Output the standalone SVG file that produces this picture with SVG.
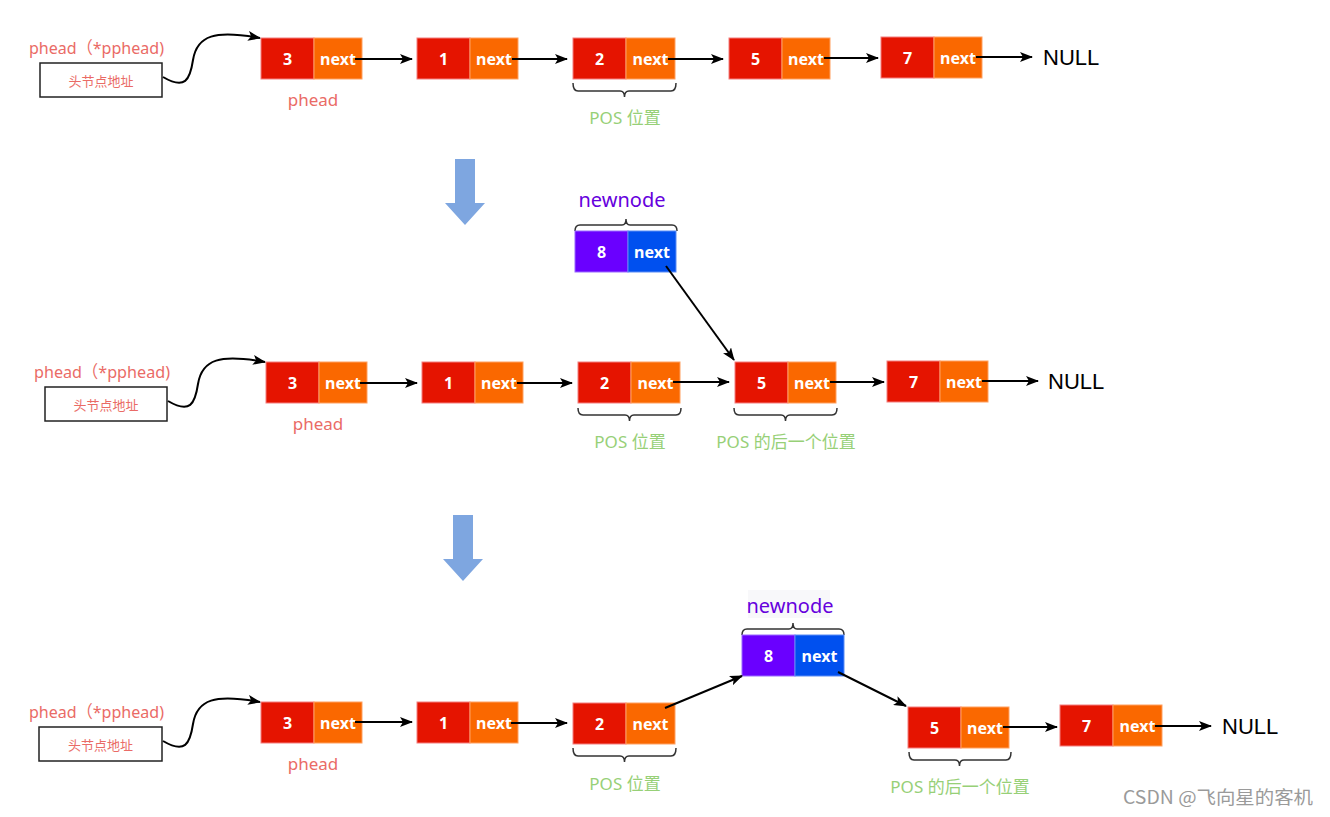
<svg xmlns="http://www.w3.org/2000/svg" width="1330" height="817" viewBox="0 0 1330 817">
<style>
.r{fill:#E51400;stroke:#F47E7E;stroke-width:1}
.o{fill:#FA6800;stroke:#FFA060;stroke-width:1}
.p{fill:#6A00FF;stroke:#9A6BFF;stroke-width:1}
.b{fill:#0050EF;stroke:#5A8CF5;stroke-width:1}
.nt{font-family:"Noto Sans","DejaVu Sans",sans-serif;font-weight:bold;font-size:16px;fill:#FFFFFF;text-anchor:middle;dominant-baseline:central}
.lbl{font-family:"Noto Sans","Noto Sans CJK SC",sans-serif;font-size:17px;fill:#EA6B66}
.box{fill:#FFFFFF;stroke:#222222;stroke-width:1.5}
.cn{font-family:"Noto Sans CJK SC",sans-serif;font-size:13px;fill:#EA6B66;text-anchor:middle;dominant-baseline:central}
.pos{font-family:"Noto Sans","Noto Sans CJK SC",sans-serif;font-size:17px;fill:#97D077;text-anchor:middle;dominant-baseline:central}
.nn{font-family:"Noto Sans","DejaVu Sans",sans-serif;font-size:20px;fill:#6600DD;text-anchor:middle;dominant-baseline:central}
.null{font-family:"Liberation Sans",Arial,sans-serif;font-size:22px;fill:#000000;dominant-baseline:central}
.br{fill:none;stroke:#333333;stroke-width:1.5}
.ln{fill:none;stroke:#000000;stroke-width:2;marker-end:url(#ah)}
.da{fill:#7EA6E0}
.wm{font-family:"Noto Sans CJK SC",sans-serif;font-size:18px;fill:#9A9A9A}
</style>
<defs>
<marker id="ah" viewBox="0 0 13 10" refX="12" refY="5" markerWidth="13" markerHeight="10" markerUnits="userSpaceOnUse" orient="auto">
<path d="M0,0 L13,5 L0,10 L3,5 z" fill="#000000"/>
</marker>
</defs>
<rect width="1330" height="817" fill="#FFFFFF"/>

<!-- ===== Row 1 ===== -->
<g id="r1-head">
<text class="lbl" x="29" y="54" textLength="135" lengthAdjust="spacingAndGlyphs">phead（*pphead)</text>
<rect class="box" x="40" y="63" width="122" height="34"/>
<text class="cn" x="101" y="80">头节点地址</text>
</g>
<g id="r1-n3">
<rect class="r" x="261" y="38" width="53" height="41"/><rect class="o" x="314" y="38" width="48" height="41"/>
<text class="nt" x="287.5" y="58.5">3</text><text class="nt" x="338" y="58.5">next</text>
<text class="lbl" x="313" y="99" text-anchor="middle" dominant-baseline="central">phead</text>
</g>
<g id="r1-n1">
<rect class="r" x="417" y="38" width="53" height="41"/><rect class="o" x="470" y="38" width="48" height="41"/>
<text class="nt" x="443.5" y="58.5">1</text><text class="nt" x="494" y="58.5">next</text>
</g>
<g id="r1-n2">
<rect class="r" x="573" y="38" width="53" height="41"/><rect class="o" x="626" y="38" width="49" height="41"/>
<text class="nt" x="599.5" y="58.5">2</text><text class="nt" x="650.5" y="58.5">next</text>
<path class="br" d="M573,83 Q573,91 578,91 L620,91 Q624.5,91 624.5,97 Q624.5,91 629,91 L671,91 Q676,91 676,83"/>
<text class="pos" x="625" y="117">POS 位置</text>
</g>
<g id="r1-n5">
<rect class="r" x="729" y="38" width="53" height="41"/><rect class="o" x="782" y="38" width="48" height="41"/>
<text class="nt" x="755.5" y="58.5">5</text><text class="nt" x="806" y="58.5">next</text>
</g>
<g id="r1-n7">
<rect class="r" x="881" y="37" width="53" height="41"/><rect class="o" x="934" y="37" width="48" height="41"/>
<text class="nt" x="907.5" y="57.5">7</text><text class="nt" x="958" y="57.5">next</text>
</g>
<g id="r1-null"><text class="null" x="1043" y="57">NULL</text></g>

<!-- down arrows -->
<g id="down1"><polygon class="da" points="455,159 475,159 475,203 485,203 465,225 445,203 455,203"/></g>
<g id="down2"><polygon class="da" points="453,515 473,515 473,559 483,559 463,581 443,559 453,559"/></g>

<!-- ===== Row 2 ===== -->
<g id="r2-newnode">
<text class="nn" x="622" y="199">newnode</text>
<path class="br" d="M575,231 Q575,225 580,225 L622,225 Q626,225 626,219 Q626,225 630,225 L672,225 Q677,225 677,231"/>
<rect class="p" x="575" y="231" width="53" height="41"/><rect class="b" x="628" y="231" width="48" height="41"/>
<text class="nt" x="601.5" y="251.5">8</text><text class="nt" x="652" y="251.5">next</text>
</g>
<g id="r2-head">
<text class="lbl" x="34" y="378" textLength="136" lengthAdjust="spacingAndGlyphs">phead（*pphead)</text>
<rect class="box" x="45" y="387" width="122" height="34"/>
<text class="cn" x="106" y="404">头节点地址</text>
</g>
<g id="r2-n3">
<rect class="r" x="266" y="362" width="53" height="41"/><rect class="o" x="319" y="362" width="48" height="41"/>
<text class="nt" x="292.5" y="382.5">3</text><text class="nt" x="343" y="382.5">next</text>
<text class="lbl" x="318" y="423" text-anchor="middle" dominant-baseline="central">phead</text>
</g>
<g id="r2-n1">
<rect class="r" x="422" y="362" width="53" height="41"/><rect class="o" x="475" y="362" width="48" height="41"/>
<text class="nt" x="448.5" y="382.5">1</text><text class="nt" x="499" y="382.5">next</text>
</g>
<g id="r2-n2">
<rect class="r" x="578" y="362" width="53" height="41"/><rect class="o" x="631" y="362" width="49" height="41"/>
<text class="nt" x="604.5" y="382.5">2</text><text class="nt" x="655.5" y="382.5">next</text>
<path class="br" d="M578,408 Q578,415 583,415 L625,415 Q629.5,415 629.5,421 Q629.5,415 634,415 L676,415 Q681,415 681,408"/>
<text class="pos" x="630" y="441">POS 位置</text>
</g>
<g id="r2-n5">
<rect class="r" x="735" y="362" width="53" height="41"/><rect class="o" x="788" y="362" width="48" height="41"/>
<text class="nt" x="761.5" y="382.5">5</text><text class="nt" x="812" y="382.5">next</text>
<path class="br" d="M734,408 Q734,415 739,415 L781,415 Q785.5,415 785.5,421 Q785.5,415 790,415 L832,415 Q837,415 837,408"/>
<text class="pos" x="786" y="441">POS 的后一个位置</text>
</g>
<g id="r2-n7">
<rect class="r" x="887" y="361" width="53" height="41"/><rect class="o" x="940" y="361" width="48" height="41"/>
<text class="nt" x="913.5" y="381.5">7</text><text class="nt" x="964" y="381.5">next</text>
</g>
<g id="r2-null"><text class="null" x="1048" y="381">NULL</text></g>

<!-- ===== Row 3 ===== -->
<g id="r3-head">
<text class="lbl" x="29" y="718" textLength="135" lengthAdjust="spacingAndGlyphs">phead（*pphead)</text>
<rect class="box" x="39" y="727" width="123" height="34"/>
<text class="cn" x="100.5" y="744">头节点地址</text>
</g>
<g id="r3-n3">
<rect class="r" x="261" y="702" width="53" height="41"/><rect class="o" x="314" y="702" width="48" height="41"/>
<text class="nt" x="287.5" y="722.5">3</text><text class="nt" x="338" y="722.5">next</text>
<text class="lbl" x="313" y="763" text-anchor="middle" dominant-baseline="central">phead</text>
</g>
<g id="r3-n1">
<rect class="r" x="417" y="702" width="53" height="41"/><rect class="o" x="470" y="702" width="48" height="41"/>
<text class="nt" x="443.5" y="722.5">1</text><text class="nt" x="494" y="722.5">next</text>
</g>
<g id="r3-n2">
<rect class="r" x="573" y="703" width="53" height="41"/><rect class="o" x="626" y="703" width="49" height="41"/>
<text class="nt" x="599.5" y="723.5">2</text><text class="nt" x="650.5" y="723.5">next</text>
<path class="br" d="M573,748 Q573,756 578,756 L620,756 Q624.5,756 624.5,762 Q624.5,756 629,756 L671,756 Q676,756 676,748"/>
<text class="pos" x="625" y="783">POS 位置</text>
</g>
<g id="r3-newnode">
<rect x="748" y="590" width="82" height="28" fill="#F8F8FA"/>
<text class="nn" x="790" y="605">newnode</text>
<path class="br" d="M742,635 Q742,629 747,629 L789,629 Q793,629 793,623 Q793,629 797,629 L839,629 Q844,629 844,635"/>
<rect class="p" x="742" y="635" width="53" height="41"/><rect class="b" x="795" y="635" width="49" height="41"/>
<text class="nt" x="768.5" y="655.5">8</text><text class="nt" x="819.5" y="655.5">next</text>
</g>
<g id="r3-n5">
<rect class="r" x="908" y="707" width="53" height="41"/><rect class="o" x="961" y="707" width="48" height="41"/>
<text class="nt" x="934.5" y="727.5">5</text><text class="nt" x="985" y="727.5">next</text>
<path class="br" d="M909,752 Q909,760 914,760 L955,760 Q959.5,760 959.5,766 Q959.5,760 964,760 L1006,760 Q1011,760 1011,752"/>
<text class="pos" x="960" y="786">POS 的后一个位置</text>
</g>
<g id="r3-n7">
<rect class="r" x="1060" y="705" width="53" height="41"/><rect class="o" x="1113" y="705" width="49" height="41"/>
<text class="nt" x="1086.5" y="725.5">7</text><text class="nt" x="1137.5" y="725.5">next</text>
</g>
<g id="r3-null"><text class="null" x="1222" y="726">NULL</text></g>

<!-- ===== Connectors ===== -->
<g id="connectors">
<path class="ln" d="M163,77 C185,90 190,80 193,60 C197,35 215,30 260,38"/>
<path class="ln" d="M355,59 L412,59"/>
<path class="ln" d="M512,59 L567,59"/>
<path class="ln" d="M668,59 L723,59"/>
<path class="ln" d="M824,58 L878,58"/>
<path class="ln" d="M976,57 L1032,57"/>

<path class="ln" d="M666,266 L734,360"/>
<path class="ln" d="M168,401 C190,414 195,404 198,384 C202,359 220,354 265,362"/>
<path class="ln" d="M360,383 L417,383"/>
<path class="ln" d="M517,383 L572,383"/>
<path class="ln" d="M673,382 L729,382"/>
<path class="ln" d="M830,382 L884,382"/>
<path class="ln" d="M982,381 L1038,381"/>

<path class="ln" d="M163,741 C185,754 190,744 193,724 C197,699 215,694 260,702"/>
<path class="ln" d="M355,722 L412,722"/>
<path class="ln" d="M511,723 L567,723"/>
<path class="ln" d="M665,708 L742,676"/>
<path class="ln" d="M838,672 L906,706"/>
<path class="ln" d="M1003,727 L1057,727"/>
<path class="ln" d="M1155,726 L1211,726"/>
</g>

<text class="wm" x="1123" y="804" textLength="190" lengthAdjust="spacingAndGlyphs">CSDN @飞向星的客机</text>
</svg>
